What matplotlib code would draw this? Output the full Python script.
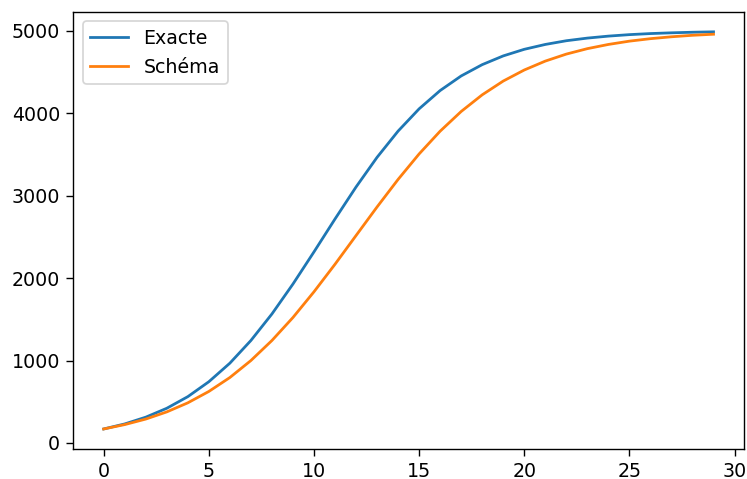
import matplotlib
matplotlib.use("Agg")
import matplotlib.pyplot as plt

# ---- DATA ----
t = list(range(30))
exacte = [170, 231, 313, 421, 562, 743, 968, 1243, 1565, 1928,
          2318, 2717, 3105, 3465, 3783, 4053, 4275, 4452, 4589, 4695,
          4775, 4834, 4879, 4911, 4935, 4953, 4966, 4975, 4982, 4987]
schema = [170, 223, 290, 377, 487, 625, 794, 1000, 1243, 1522,
          1834, 2168, 2516, 2863, 3197, 3506, 3782, 4021, 4223, 4390,
          4524, 4632, 4717, 4783, 4834, 4874, 4904, 4927, 4945, 4958]

DPI = 124.5
fig = plt.figure(figsize=(747 / DPI, 479 / DPI), dpi=DPI)
ax = fig.add_axes([0.098, 0.063, 0.898, 0.912])

ax.plot(t, exacte, linewidth=1.6, label="Exacte")
ax.plot(t, schema, linewidth=1.6, label="Schéma")

ax.set_xticks([0, 5, 10, 15, 20, 25, 30])
ax.set_yticks([0, 1000, 2000, 3000, 4000, 5000])
ax.tick_params(labelsize=11, length=4)
ax.legend(loc="upper left", fontsize=11)

fig.savefig("out.png", dpi=DPI)
